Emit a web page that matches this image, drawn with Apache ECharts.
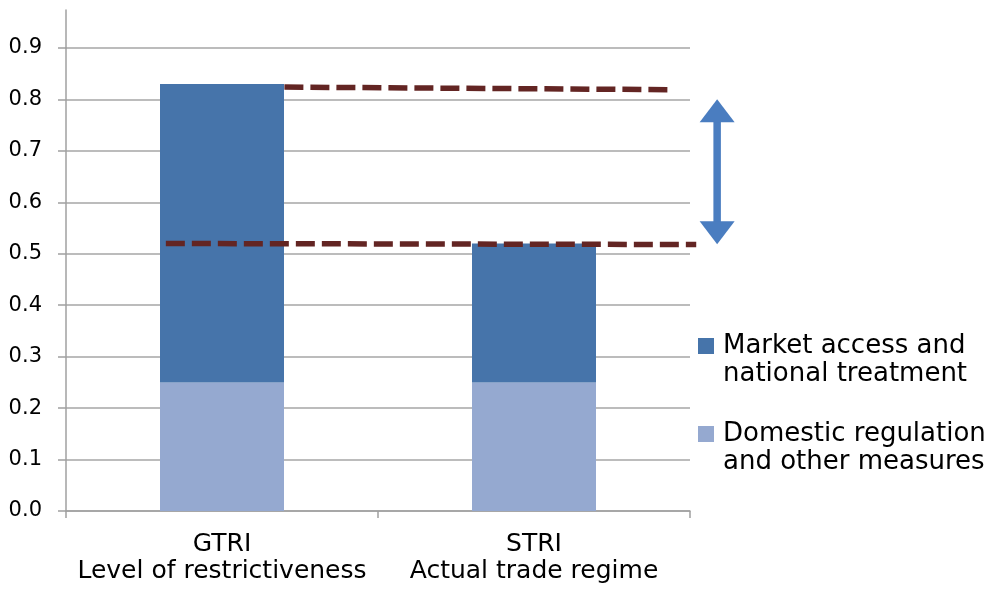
<!DOCTYPE html>
<html>
<head>
<meta charset="utf-8">
<script src="https://cdn.jsdelivr.net/npm/echarts@6/dist/echarts.min.js"></script>
<style>
  html, body { margin: 0; padding: 0; background: #fff; }
  #chart { width: 996px; height: 593px; }
</style>
</head>
<body>
<div id="chart"></div>
<script>
// categories and stacked values
const categories = ['GTRI\nLevel of restrictiveness', 'STRI\nActual trade regime']
const domesticRegulation = [0.25, 0.25]
const marketAccess = [0.58, 0.27]
const yTicks = { min: 0, max: 0.9, interval: 0.1 }

// helper x positions (one unit = one category width) for the annotations
const gapTop = [[0.70, 0.824], [1.94, 0.819]]
const gapBottom = [[0.32, 0.520], [2.02, 0.518]]
const arrowX = 2.087
const arrowShaft = [0.765, 0.553]
const arrowHeads = [0.778, 0.541]

const font = 'DejaVu Sans'
const arrowColor = '#4a7dc0'
const myChart = echarts.init(document.getElementById('chart'))

const option = {
  animation: false,
  grid: [
    { left: 66, right: 306, top: 48, bottom: 82 },
    { left: 66, width: 624, top: 10, height: 38 },
    // same plot area, widened to the right so the annotations can run past it
    { left: 66, width: 702, top: 48, bottom: 82 }
  ],
  legend: {
    orient: 'vertical',
    left: 693,
    top: 300,
    itemWidth: 16,
    itemHeight: 16,
    itemGap: 6,
    icon: 'rect',
    data: ['Market access and\nnational treatment', 'Domestic regulation\nand other measures'],
    formatter: function(name) {
      return '{a|' + name + '}'
    },
    textStyle: {
      rich: {
        a: {
          fontFamily: font,
          fontSize: 26,
          lineHeight: 28,
          color: '#000',
          padding: [28, 0, 0, 4]
        }
      }
    }
  },
  xAxis: [
    {
      type: 'category',
      data: categories,
      gridIndex: 0,
      axisLine: { lineStyle: { color: '#a0a0a0', width: 1.5 } },
      axisTick: { show: true, length: 7, lineStyle: { color: '#a0a0a0', width: 1.5 } },
      axisLabel: {
        interval: 0,
        color: '#000',
        fontFamily: font,
        fontSize: 25,
        lineHeight: 27,
        margin: 20
      }
    },
    { type: 'value', gridIndex: 1, show: false },
    { type: 'value', gridIndex: 2, min: 0, max: 2.25, show: false }
  ],
  yAxis: [
    {
      type: 'value',
      gridIndex: 0,
      min: yTicks.min,
      max: yTicks.max,
      interval: yTicks.interval,
      axisLine: { show: true, lineStyle: { color: '#a0a0a0', width: 1.5 } },
      axisTick: { show: true, length: 8, lineStyle: { color: '#a0a0a0', width: 1.5 } },
      splitLine: { lineStyle: { color: '#a6a6a6', width: 1.5 } },
      axisLabel: {
        color: '#000',
        fontFamily: font,
        fontSize: 21,
        margin: 24,
        formatter: function(v) { return v.toFixed(1) }
      }
    },
    {
      type: 'value',
      gridIndex: 1,
      axisLine: { show: true, lineStyle: { color: '#a0a0a0', width: 1.5 } },
      axisTick: { show: false },
      axisLabel: { show: false },
      splitLine: { show: false }
    },
    { type: 'value', gridIndex: 2, min: yTicks.min, max: yTicks.max, show: false }
  ],
  series: [
    {
      name: 'Domestic regulation\nand other measures',
      type: 'bar',
      stack: 'total',
      barWidth: 124,
      data: domesticRegulation,
      itemStyle: { color: '#95a9d0' }
    },
    {
      name: 'Market access and\nnational treatment',
      type: 'bar',
      stack: 'total',
      barWidth: 124,
      data: marketAccess,
      itemStyle: { color: '#4674aa' }
    },
    {
      type: 'line',
      xAxisIndex: 2,
      yAxisIndex: 2,
      symbol: 'none',
      data: gapTop,
      lineStyle: { color: '#632523', width: 5.5, type: [19, 7] },
      z: 5
    },
    {
      type: 'line',
      xAxisIndex: 2,
      yAxisIndex: 2,
      symbol: 'none',
      data: gapBottom,
      lineStyle: { color: '#632523', width: 5.5, type: [19, 7] },
      z: 5
    },
    // double-headed arrow: shaft + two triangle heads
    {
      type: 'line',
      xAxisIndex: 2,
      yAxisIndex: 2,
      symbol: 'none',
      data: [[arrowX, arrowShaft[0]], [arrowX, arrowShaft[1]]],
      lineStyle: { color: arrowColor, width: 7.5 },
      z: 6
    },
    {
      type: 'scatter',
      xAxisIndex: 2,
      yAxisIndex: 2,
      symbol: 'triangle',
      symbolSize: [35, 23],
      itemStyle: { color: arrowColor, opacity: 1 },
      data: [
        { value: [arrowX, arrowHeads[0]] },
        { value: [arrowX, arrowHeads[1]], symbolRotate: 180 }
      ],
      z: 6
    }
  ]
}

myChart.setOption(option)
window.addEventListener('resize', function() {
  myChart.resize()
})
</script>
</body>
</html>
